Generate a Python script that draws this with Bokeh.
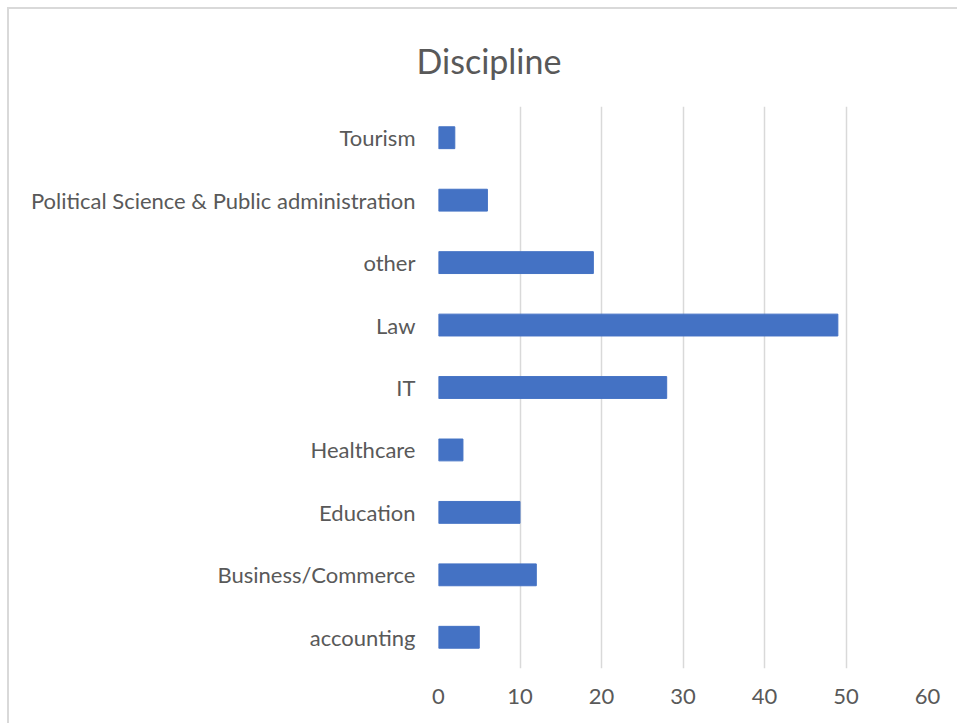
from bokeh.plotting import figure
from bokeh.models import FactorRange, Range1d, FixedTicker, Title, ColumnDataSource
from bokeh.embed import file_html
from bokeh.resources import INLINE

categories = ["accounting", "Business/Commerce", "Education", "Healthcare", "IT",
              "Law", "other", "Political Science & Public administration", "Tourism"]
values = [5, 12, 10, 3, 28, 49, 19, 6, 2]
x_ticks = [0, 10, 20, 30, 40, 50, 60]
title_text = "Discipline"

FONT = "Lato"
TXT = "#595959"

src = ColumnDataSource(data=dict(cat=categories, val=values))

p = figure(width=950, height=716, output_backend="svg", toolbar_location=None,
           y_range=FactorRange(factors=categories, range_padding=0),
           x_range=Range1d(0, 60),
           min_border_left=429, min_border_right=32, min_border_top=97, min_border_bottom=57)
p.styles = {"margin-left": "7px", "margin-top": "7px",
            "border-left": "2px solid #d9d9d9", "border-top": "2px solid #d9d9d9"}

p.hbar(y="cat", right="val", left=0, height=0.35, color="#4472C4", source=src)

t = Title(text=title_text, align="left", offset=-22, standoff=51, text_font=FONT,
          text_font_size="34px", text_font_style="normal", text_color=TXT)
p.add_layout(t, "above")

p.outline_line_color = None
p.ygrid.grid_line_color = None
p.xgrid.grid_line_color = "#d9d9d9"
p.xgrid.grid_line_width = 1.5
p.xaxis.ticker = FixedTicker(ticks=x_ticks)
for ax in (p.xaxis, p.yaxis):
    ax.axis_line_color = None
    ax.major_tick_line_color = None
    ax.minor_tick_line_color = None
    ax.major_label_text_font = FONT
    ax.major_label_text_font_size = "22px"
    ax.major_label_text_color = TXT
p.xaxis.major_label_standoff = 14
p.yaxis.major_label_standoff = 17

open("out.html", "w").write(file_html(p, INLINE))
